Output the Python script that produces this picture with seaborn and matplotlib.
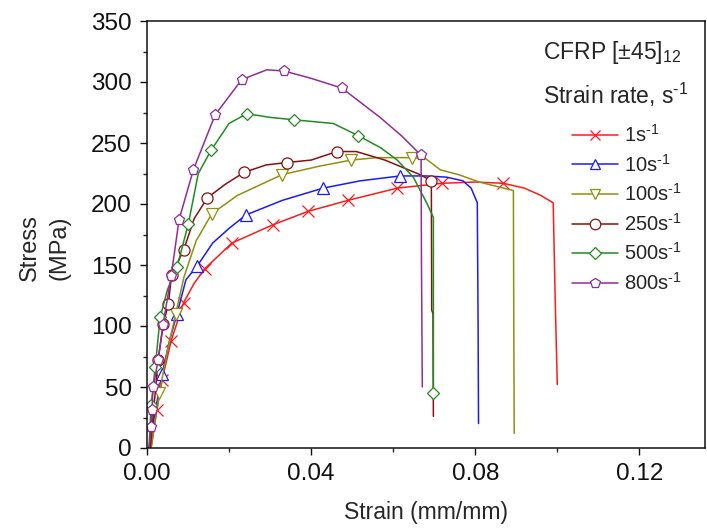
import matplotlib
matplotlib.use("Agg")
import matplotlib.pyplot as plt
import seaborn as sns
import numpy as np
import pandas as pd

# strain (mm/mm) / stress (MPa), one pair per strain rate
strain_1 = [0.0010, 0.0024, 0.0037, 0.0059, 0.0089, 0.0115, 0.0141, 0.0207, 0.0307, 0.0393,
            0.0490, 0.0610, 0.0720, 0.0800, 0.0868, 0.0920, 0.0960, 0.0990, 0.0995, 0.1000]
stress_1 = [0, 31, 56, 88, 119, 135, 147, 168, 183, 194,
            203, 213, 217, 218, 217, 213, 207, 201, 120, 52]
marks_1 = [1, 2, 3, 4, 6, 7, 8, 9, 10, 11, 12, 14]

strain_10 = [0.0005, 0.0020, 0.0037, 0.0055, 0.0073, 0.0095, 0.0122, 0.0160, 0.0200, 0.0241, 0.0330,
             0.0429, 0.0520, 0.0617, 0.0680, 0.0730, 0.0770, 0.0790, 0.0805, 0.0807, 0.0808]
stress_10 = [0, 30, 61, 88, 110, 138, 149, 168, 180, 191, 203,
             213, 219, 223, 223, 222, 219, 213, 201, 100, 20]
marks_10 = [2, 4, 6, 9, 11, 13]

strain_100 = [0.0010, 0.0030, 0.0050, 0.0070, 0.0090, 0.0120, 0.0158, 0.0220, 0.0329, 0.0420,
              0.0498, 0.0560, 0.0646, 0.0680, 0.0715, 0.0760, 0.0810, 0.0893, 0.0894, 0.0895]
stress_100 = [0, 45, 80, 110, 140, 170, 192, 207, 224, 231,
              236, 238, 238, 237, 228, 224, 218, 211, 100, 12]
marks_100 = [1, 3, 6, 8, 10, 12]

strain_250 = [0.0008, 0.0027, 0.0040, 0.0052, 0.0060, 0.0089, 0.0115, 0.0147, 0.0190, 0.0237, 0.0290,
              0.0341, 0.0400, 0.0463, 0.0510, 0.0580, 0.0666, 0.0693, 0.0694, 0.0697, 0.0698]
stress_250 = [0, 72, 102, 118, 142, 162, 188, 205, 216, 226, 232,
              234, 236, 243, 243, 236, 224, 219, 113, 110, 26]
marks_250 = [1, 2, 3, 4, 5, 7, 9, 11, 13, 17]

strain_500 = [0.0005, 0.0010, 0.0020, 0.0032, 0.0050, 0.0073, 0.0101, 0.0125, 0.0156, 0.0200, 0.0243,
              0.0300, 0.0359, 0.0454, 0.0515, 0.0570, 0.0610, 0.0649, 0.0683, 0.0698, 0.0698]
stress_500 = [0, 35, 66, 107, 130, 148, 184, 225, 244, 266, 274,
              271, 269, 266, 256, 246, 236, 222, 200, 189, 45]
marks_500 = [1, 2, 3, 5, 6, 8, 10, 12, 14, 20]

strain_800 = [0.0005, 0.0010, 0.0012, 0.0015, 0.0027, 0.0039, 0.0059, 0.0078, 0.0113, 0.0166,
              0.0231, 0.0292, 0.0334, 0.0400, 0.0475, 0.0568, 0.0620, 0.0668, 0.0669, 0.0671]
stress_800 = [0, 17, 31, 50, 72, 101, 141, 187, 228, 273,
              302, 310, 309, 303, 295, 271, 256, 240, 150, 50]
marks_800 = [1, 2, 3, 4, 5, 6, 7, 8, 9, 10, 12, 14, 17]

rates = ["1", "10", "100", "250", "500", "800"]

curves = [
    (strain_1, stress_1, marks_1, "#ff1a1a", "x"),
    (strain_10, stress_10, marks_10, "#1a1aff", "^"),
    (strain_100, stress_100, marks_100, "#8f8f10", "v"),
    (strain_250, stress_250, marks_250, "#8a1010", "o"),
    (strain_500, stress_500, marks_500, "#238a23", "D"),
    (strain_800, stress_800, marks_800, "#922d96", "p"),
]

SUP = r"$\mathregular{^{\text{-}1}}$"

sns.set_theme(style="ticks")
plt.rcParams["font.family"] = ["Liberation Sans", "DejaVu Sans"]
plt.rcParams["mathtext.fontset"] = "custom"
plt.rcParams["mathtext.rm"] = "Liberation Sans"
plt.rcParams["mathtext.it"] = "Liberation Sans:italic"

fig = plt.figure(figsize=(7.07, 5.30), dpi=100)
ax = fig.add_axes([147 / 707, 1 - 448 / 530, (705 - 147) / 707, (448 - 21) / 530])

for (sx, sy, mk, col, m), rate in zip(curves, rates):
    df = pd.DataFrame({"strain": sx, "stress": sy})
    msize = 6.5 if m == "D" else 8
    sns.lineplot(data=df, x="strain", y="stress", sort=False, estimator=None, ax=ax,
                 color=col, linewidth=1.1, marker=m, markevery=mk,
                 markersize=msize, markerfacecolor="white" if m != "x" else col,
                 markeredgecolor=col, markeredgewidth=0.9,
                 label=rate + "s" + SUP)

ax.set_xlim(0, 0.136)
ax.set_ylim(0, 350)
ax.set_xticks([0.00, 0.04, 0.08, 0.12])
ax.set_xticks([0.02, 0.06, 0.10], minor=True)
ax.set_xticklabels(["0.00", "0.04", "0.08", "0.12"])
ax.set_yticks(np.arange(0, 351, 50))
ax.set_yticks(np.arange(25, 350, 50), minor=True)

ax.tick_params(axis="both", which="major", direction="out", length=5, width=1,
               labelsize=17.5, pad=6, colors="#111111")
ax.tick_params(axis="both", which="minor", direction="out", length=3, width=1)
for sp in ax.spines.values():
    sp.set_linewidth(1.1)
    sp.set_color("#111111")

ax.set_xlabel("Strain (mm/mm)", fontsize=16.5, va="center")
ax.xaxis.set_label_coords(0.5, -0.150)
ax.set_ylabel("Stress\n(MPa)", fontsize=17, va="center", linespacing=1.45)
ax.yaxis.set_label_coords(-0.183, 0.47)

fig.text(543 / 707, 1 - 53 / 530, r"CFRP [±45]$\mathregular{_{12}}$", fontsize=16.5,
         ha="left", va="center")
fig.text(543 / 707, 1 - 95 / 530, "Strain rate, s" + SUP, fontsize=16.5,
         ha="left", va="center")

ax.legend(loc="upper left", bbox_to_anchor=(572 / 707, 1 - 124 / 530),
          bbox_transform=fig.transFigure, frameon=False, fontsize=14.5,
          handlelength=2.3, handletextpad=0.3, labelspacing=0.38,
          borderpad=0, borderaxespad=0, markerscale=0.95)

fig.savefig("out.png", dpi=100)
